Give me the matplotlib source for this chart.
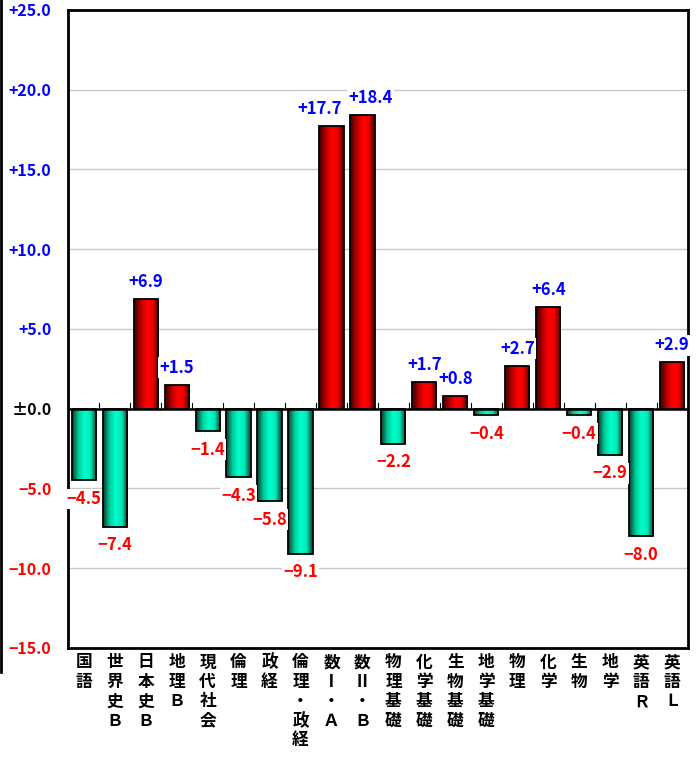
import matplotlib.pyplot as plt
import numpy as np
from matplotlib.colors import LinearSegmentedColormap
from matplotlib.lines import Line2D

plt.rcParams['font.family'] = ['Noto Sans CJK JP', 'DejaVu Sans']

subjects = ['国語', '世界史Ｂ', '日本史Ｂ', '地理Ｂ', '現代社会', '倫理', '政経',
            '倫理・政経', '数Ⅰ・Ａ', '数Ⅱ・Ｂ', '物理基礎', '化学基礎', '生物基礎',
            '地学基礎', '物理', '化学', '生物', '地学', '英語Ｒ', '英語Ｌ']
diffs = [-4.5, -7.4, 6.9, 1.5, -1.4, -4.3, -5.8, -9.1, 17.7, 18.4,
         -2.2, 1.7, 0.8, -0.4, 2.7, 6.4, -0.4, -2.9, -8.0, 2.9]
yticks = [25, 20, 15, 10, 5, 0, -5, -10, -15]
# small sideways nudge for the two crowded labels
label_nudge = {8: -0.38, 9: 0.25}

red_cmap = LinearSegmentedColormap.from_list('r', ['#3a0000', '#b00000', '#ff0000', '#f00000', '#4a0000'])
teal_cmap = LinearSegmentedColormap.from_list('t', ['#0a3a2a', '#00c898', '#00ffcc', '#00e8b8', '#0a4030'])


def fmt(v):
    if v > 0:
        return f'+{v:.1f}'
    if v < 0:
        return f'\u2212{abs(v):.1f}'
    return '±0.0'


fig = plt.figure(figsize=(6.96, 7.64), dpi=100)
ax = fig.add_axes([0.098, 0.152, 0.89, 0.835])

x = np.arange(len(subjects))
bars = ax.bar(x, diffs, width=0.78, edgecolor='black', linewidth=1.3, zorder=3,
              facecolor='none')

grad = np.linspace(0, 1, 64).reshape(1, -1)
for i, (b, v) in enumerate(zip(bars, diffs)):
    x0, w = b.get_x(), b.get_width()
    y0, y1 = sorted([0, v])
    im = ax.imshow(grad, cmap=red_cmap if v > 0 else teal_cmap, aspect='auto',
                   extent=[x0, x0 + w, y0, y1], zorder=2, interpolation='bilinear')
    im.set_clip_path(b)
    xc = x0 + w / 2 + label_nudge.get(i, 0)
    if v > 0:
        ax.text(xc, v + 0.5, fmt(v), ha='center', va='bottom',
                color='blue', fontsize=12, fontweight='bold', zorder=5,
                bbox=dict(facecolor='white', edgecolor='none', pad=1))
    else:
        ax.text(xc, v - 0.6, fmt(v), ha='center', va='top',
                color='red', fontsize=12, fontweight='bold', zorder=5,
                bbox=dict(facecolor='white', edgecolor='none', pad=1))

ax.set_xlim(-0.5, len(subjects) - 0.5)
ax.set_ylim(-15, 25)
ax.set_yticks(yticks)
ax.set_yticklabels([fmt(float(t)) for t in yticks])
for lab, t in zip(ax.get_yticklabels(), yticks):
    lab.set_color('blue' if t > 0 else ('red' if t < 0 else 'black'))
    lab.set_fontweight('bold')
    lab.set_fontsize(11.5)
ax.tick_params(axis='y', length=0, pad=12)
ax.grid(axis='y', color='#c8c8c8', linewidth=1, zorder=0)
ax.set_axisbelow(True)

# zero line with small upward ticks between categories
ax.axhline(0, color='black', linewidth=1.8, zorder=4)
for xb in np.arange(0.5, len(subjects) - 0.5, 1.0):
    ax.plot([xb, xb], [0, 0.35], color='black', linewidth=0.8, zorder=4)

ax.set_xticks(x)
ax.set_xticklabels(['\n'.join(s) for s in subjects], fontsize=12,
                   fontweight='bold', va='top', linespacing=1.1)
ax.tick_params(axis='x', length=0, pad=4)

for s in ax.spines.values():
    s.set_linewidth(2)
    s.set_color('black')

fig.add_artist(Line2D([0.002, 0.002], [0.12, 1.0], color='black', linewidth=2,
                      transform=fig.transFigure))

fig.savefig('out.png', dpi=100)
